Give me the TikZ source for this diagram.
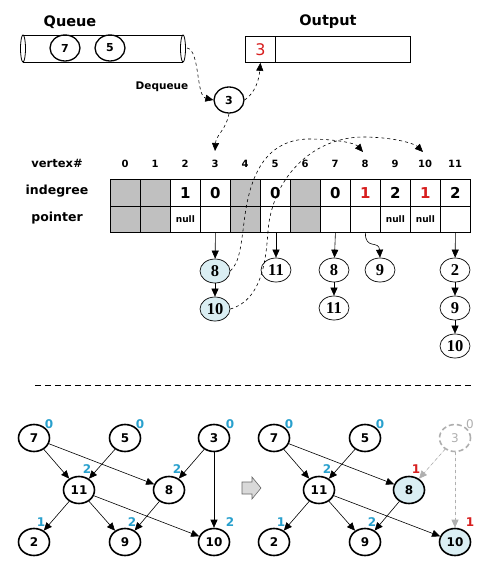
\documentclass[tikz,border=0pt]{standalone}
\usepackage{fontspec}
\setmainfont{DejaVu Sans}
\newfontfamily\listfont{Liberation Serif}
\usetikzlibrary{shapes.geometric,arrows.meta}
\definecolor{cyanlab}{RGB}{40,160,205}
\definecolor{redlab}{RGB}{215,30,30}
\definecolor{lblue}{RGB}{218,238,243}
\definecolor{cellgray}{RGB}{192,192,192}
\definecolor{ghost}{RGB}{175,175,175}
\begin{document}
\begin{tikzpicture}[x=1pt,y=-1pt,
  every node/.style={font=\bfseries\fontsize{10}{12}\selectfont},
  qnode/.style={ellipse,draw,line width=1.3pt,minimum width=30pt,minimum height=26pt,inner sep=0pt,font=\bfseries\fontsize{11}{11}\selectfont},
  lnode/.style={ellipse,draw,line width=0.7pt,minimum width=30pt,minimum height=24pt,inner sep=0pt,font=\listfont\bfseries\fontsize{16.5}{16.5}\selectfont},
  gnode/.style={ellipse,draw,line width=1.6pt,minimum width=31pt,minimum height=27pt,inner sep=0pt,font=\bfseries\fontsize{12}{12}\selectfont},
  arr/.style={-{Triangle[length=8pt,width=7pt]},line width=0.6pt},
  darr/.style={arr,dashed},
  cellbox/.style={draw,line width=0.8pt,minimum width=30pt,minimum height=26.5pt,inner sep=0pt,anchor=north west},
  graycell/.style={cellbox,fill=cellgray},
  lab/.style={font=\bfseries\fontsize{12}{12}\selectfont,text=cyanlab},
  rlab/.style={font=\bfseries\fontsize{12}{12}\selectfont,text=redlab},
  ttl/.style={font=\bfseries\fontsize{14.5}{14.5}\selectfont}]
\useasboundingbox (0,0) rectangle (487,572);

% ---------- Queue ----------
\node[ttl] (qt) at (70,22) {Queue};
\draw[line width=0.8pt] (23,35) -- (183,35);
\draw[line width=0.8pt] (23,62) -- (183,62);
\draw[line width=0.8pt] (23,48.5) ellipse [x radius=2.5, y radius=13.5];
\draw[line width=0.8pt] (183,48.5) ellipse [x radius=2.5, y radius=13.5];
\coordinate (qend) at (187,48);
\node[qnode] (q7) at (65,48) {7};
\node[qnode] (q5) at (110,48) {5};

% ---------- Output ----------
\node[ttl] (ot) at (328,22) {Output};
\node[draw,line width=0.8pt,minimum width=30pt,minimum height=26pt,inner sep=0pt,anchor=north west,
  font=\fontsize{16}{16}\selectfont,text=redlab] (o1) at (245,36) {3};
\node[draw,line width=0.8pt,minimum width=135pt,minimum height=26pt,inner sep=0pt,anchor=north west] (o2) at (275,36) {};

\node[font=\bfseries\fontsize{10.5}{10.5}\selectfont] (deq) at (162,87) {Dequeue};
\node[qnode] (d3) at (229,100) {3};

\draw[darr] (qend) .. controls (200,50) and (196,96) .. (d3.west);
\draw[darr] (d3.east) .. controls (255,93) and (259,80) .. (o1.south);
\coordinate (h3) at (215,151);
\draw[darr] (d3.south) .. controls (226,130) and (216,135) .. (h3);

% ---------- Table ----------
\node[font=\bfseries\fontsize{11.5}{11.5}\selectfont] (vx) at (57,163) {vertex\#};
\node[font=\bfseries\fontsize{12.5}{12.5}\selectfont] (idg) at (57,191) {indegree};
\node[font=\bfseries\fontsize{12.5}{12.5}\selectfont] (ptr) at (57,218) {pointer};
\foreach \i in {0,...,11}{
  \node[font=\bfseries\fontsize{10}{10}\selectfont] (hd\i) at (125+30*\i,164) {\i};
}
\foreach \i in {0,1,4,6}{
  \node[graycell] (ia\i) at (110+30*\i,179) {};
  \node[graycell] (pa\i) at (110+30*\i,205.5) {};
}
\foreach \i in {2,3,5,7,8,9,10,11}{
  \node[cellbox] (ia\i) at (110+30*\i,179) {};
  \node[cellbox] (pa\i) at (110+30*\i,205.5) {};
}
\foreach \i/\v in {2/1,3/0,5/0,7/0,9/2,11/2}{
  \node[font=\bfseries\fontsize{15}{15}\selectfont] (iv\i) at (ia\i.center) {\v};
}
\foreach \i in {8,10}{
  \node[font=\bfseries\fontsize{15}{15}\selectfont,text=redlab] (iv\i) at (ia\i.center) {1};
}
\foreach \i in {2,9,10}{
  \node[font=\bfseries\fontsize{9}{9}\selectfont] (nl\i) at (pa\i.center) {null};
}
\coordinate (h8) at (363,152);
\coordinate (h10) at (423,152);

% ---------- Lists ----------
\node[lnode,fill=lblue] (a8) at (215,271) {8};
\node[lnode,fill=lblue] (a10) at (215,309) {10};
\node[lnode] (b11) at (276,270) {11};
\node[lnode] (c8) at (334,270) {8};
\node[lnode] (c11) at (334,308) {11};
\node[lnode] (d9) at (380,270) {9};
\node[lnode] (e2) at (455,270) {2};
\node[lnode] (e9) at (455,308) {9};
\node[lnode] (e10) at (455,346) {10};

\draw[arr] (pa3.south) -- (a8);
\draw[arr] (a8) -- (a10);
\draw[arr] (pa5.south -| b11) -- (b11);
\draw[arr] (pa7.south) -- (c8);
\draw[arr] (c8) -- (c11);
\draw[arr] (pa8.south) .. controls (365,250) and (379,240) .. (d9.north);
\draw[arr] (pa11.south) -- (e2);
\draw[arr] (e2) -- (e9);
\draw[arr] (e9) -- (e10);

\draw[darr] (a8.east) .. controls (240,262) and (241,245) .. (245,215)
  .. controls (252,165) and (272,140) .. (308,139)
  .. controls (335,139) and (355,143) .. (h8);
\draw[darr] (a10.east) .. controls (262,300) and (266,260) .. (268,231)
  .. controls (272,180) and (310,138) .. (362,137)
  .. controls (395,137) and (415,144) .. (h10);

% ---------- separator ----------
\coordinate (s1) at (35,385);
\coordinate (s2) at (472,385);
\draw[line width=0.8pt,dash pattern=on 6pt off 4pt] (s1) -- (s2);

% ---------- Left graph ----------
\node[gnode] (L7) at (34,438) {7};
\node[gnode] (L5) at (125,438) {5};
\node[gnode] (L3) at (214,438) {3};
\node[gnode] (L11) at (79,490) {11};
\node[gnode] (L8) at (169,490) {8};
\node[gnode] (L2) at (34,542) {2};
\node[gnode] (L9) at (125,542) {9};
\node[gnode] (L10) at (214,542) {10};
\foreach \a/\b in {L7/L11,L7/L8,L5/L11,L3/L8,L3/L10,L11/L2,L11/L9,L11/L10,L8/L9}{
  \draw[arr] (\a) -- (\b);
}
\node[lab] (l7) at (49,424) {0};
\node[lab] (l5) at (140,424) {0};
\node[lab] (l3) at (230,424) {0};
\node[lab] (l11) at (87,469) {2};
\node[lab] (l8) at (177,469) {2};
\node[lab] (l2) at (41,522) {1};
\node[lab] (l9) at (132,522) {2};
\node[lab] (l10) at (230,522) {2};

% ---------- block arrow ----------
\filldraw[draw=black!60,fill=black!15,line width=0.6pt,line join=miter]
  (242,482) -- (252,482) -- (252,477) -- (261,488) -- (252,499) -- (252,494) -- (242,494) -- cycle;

% ---------- Right graph ----------
\node[gnode] (R7) at (274,438) {7};
\node[gnode] (R5) at (365,438) {5};
\node[gnode,draw=ghost,dash pattern=on 5pt off 3pt,text=ghost,font=\fontsize{12}{12}\selectfont] (R3) at (455,438) {3};
\node[gnode] (R11) at (319,490) {11};
\node[gnode,fill=lblue] (R8) at (409,490) {8};
\node[gnode] (R2) at (274,542) {2};
\node[gnode] (R9) at (365,542) {9};
\node[gnode,fill=lblue] (R10) at (455,542) {10};
\foreach \a/\b in {R7/R11,R7/R8,R5/R11,R11/R2,R11/R9,R11/R10,R8/R9}{
  \draw[arr] (\a) -- (\b);
}
\draw[arr,dashed,draw=ghost,fill=ghost] (R3) -- (R8);
\draw[arr,dashed,draw=ghost,fill=ghost] (R3) -- (R10);
\node[font=\fontsize{12}{12}\selectfont,text=ghost] (r3) at (470,424) {0};
\node[lab] (r7) at (289,424) {0};
\node[lab] (r5) at (380,424) {0};
\node[lab] (r11) at (327,469) {2};
\node[rlab] (r8) at (416,469) {1};
\node[lab] (r2) at (281,522) {1};
\node[lab] (r9) at (372,522) {2};
\node[rlab] (r10) at (470,522) {1};
\end{tikzpicture}
\end{document}
